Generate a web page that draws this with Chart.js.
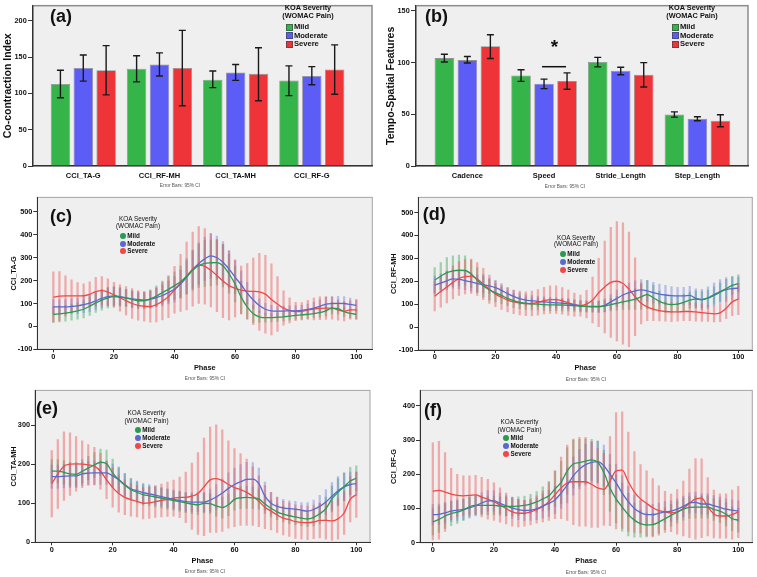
<!DOCTYPE html>
<html>
<head>
<meta charset="utf-8">
<script src="https://cdn.jsdelivr.net/npm/chart.js@4/dist/chart.umd.min.js"></script>
<style>
  body { margin: 0; background: #fff; font-family: 'Liberation Sans', Arial, sans-serif; color: #111; }
  #fig { position: relative; width: 757px; height: 577px; overflow: hidden; }
  #fig canvas { position: absolute; }
  .txt { position: absolute; white-space: nowrap; color: #111; }
  .mark { position: absolute; box-sizing: border-box; }
</style>
</head>
<body>
<div id="fig">
  <canvas id="chartA" width="380" height="192" style="left:0;top:0"></canvas>
  <canvas id="chartB" width="377" height="192" style="left:380px;top:0"></canvas>
  <canvas id="chartC" width="380" height="193" style="left:0;top:192px"></canvas>
  <canvas id="chartD" width="377" height="193" style="left:380px;top:192px"></canvas>
  <canvas id="chartE" width="380" height="192" style="left:0;top:385px"></canvas>
  <canvas id="chartF" width="377" height="192" style="left:380px;top:385px"></canvas>
</div>
<script>
// ---- bar panels (a) and (b) ----
const ccCategories = ['CCI_TA-G', 'CCI_RF-MH', 'CCI_TA-MH', 'CCI_RF-G'];
const ccMild = [113, 134, 119, 118];
const ccMildLow = [94, 116, 108, 97];
const ccMildHigh = [132, 152, 131, 138];
const ccModerate = [135, 140, 129, 124];
const ccModerateLow = [117, 124, 118, 112];
const ccModerateHigh = [153, 156, 140, 137];
const ccSevere = [132, 135, 127, 133];
const ccSevereLow = [98, 83, 90, 99];
const ccSevereHigh = [166, 187, 163, 167];
const ccTicks = [0, 50, 100, 150, 200];

const tsCategories = ['Cadence', 'Speed', 'Stride_Length', 'Step_Length'];
const tsMild = [104.3, 87.5, 100.5, 49.8];
const tsMildLow = [100.5, 81.8, 95.8, 47.3];
const tsMildHigh = [108, 93, 105, 52.3];
const tsModerate = [102.4, 79.6, 92, 45.7];
const tsModerateLow = [99.6, 74.8, 88.2, 43.8];
const tsModerateHigh = [105.9, 84, 95.5, 47.6];
const tsSevere = [115.8, 82.1, 88.2, 43.8];
const tsSevereLow = [104, 74.2, 76.4, 38];
const tsSevereHigh = [126.9, 90, 99.9, 49.5];
const tsTicks = [0, 50, 100, 150];

// ---- curve panels (c)-(f): mean and 95% CI half width per phase ----
const phases = [0,2,4,6,8,10,12,14,16,18,20,22,24,26,28,30,32,34,36,38,40,42,44,46,48,50,52,54,56,58,60,62,64,66,68,70,72,74,76,78,80,82,84,86,88,90,92,94,96,98,100];
const phaseTicks = [0, 20, 40, 60, 80, 100];

const taG_mild = [52,55,58,62,68,75,88,103,115,125,130,128,124,118,112,112,120,132,148,162,178,195,218,245,265,275,278,279,265,230,185,128,85,55,42,38,38,40,42,45,48,50,53,56,60,68,80,78,65,57,53];
const taG_moderate = [85,85,85,87,90,95,102,112,122,130,133,130,125,120,117,115,118,126,135,148,162,185,215,248,275,295,308,300,280,250,215,182,145,115,91,75,68,67,67,68,68,70,74,80,88,97,100,101,100,96,92];
const taG_severe = [128,132,133,133,133,134,140,152,156,150,138,125,112,100,92,88,87,95,110,130,160,190,220,250,268,262,245,222,198,178,166,158,154,153,151,141,118,98,80,70,65,66,72,76,79,80,80,72,66,72,72];
const taG_mildCI = [35,35,35,35,36,38,40,42,44,44,42,40,38,36,35,36,40,45,50,55,60,68,78,88,95,100,100,98,92,85,78,70,55,38,25,20,18,18,18,18,18,18,18,18,20,22,25,25,22,20,20];
const taG_moderateCI = [32,32,32,33,34,35,36,38,40,40,40,38,36,35,34,34,36,40,45,50,56,62,72,82,90,95,98,95,90,82,72,60,48,38,30,26,24,22,22,22,22,22,24,26,28,30,30,30,30,28,26];
const taG_severeCI = [110,108,88,70,58,52,55,62,62,58,55,58,62,65,65,65,68,75,82,92,102,125,148,162,168,165,160,158,160,150,125,105,120,145,168,170,155,120,75,55,40,38,42,48,50,50,48,45,42,40,42];

const rfMH_mild = [205,222,238,245,248,247,232,205,180,162,150,138,125,115,108,104,101,100,98,97,97,96,95,93,91,90,90,90,92,98,104,110,115,122,132,142,128,112,102,98,100,108,118,122,120,126,138,152,168,182,190];
const rfMH_moderate = [183,192,202,210,208,203,197,190,185,180,172,160,146,134,124,118,115,112,110,108,106,104,101,97,93,90,88,88,95,110,125,140,150,158,162,158,150,144,140,137,136,136,138,125,120,128,142,155,164,168,170];
const rfMH_severe = [135,155,175,195,212,220,222,210,188,165,145,130,118,110,105,102,103,108,115,120,120,114,106,98,94,100,118,150,175,195,200,190,165,132,104,88,78,72,68,66,66,68,68,66,63,60,58,62,82,110,122];
const rfMH_mildCI = [55,60,65,66,66,64,60,55,50,45,40,36,32,30,28,27,26,25,25,25,25,25,25,25,25,25,25,25,26,28,30,33,38,45,55,62,55,45,38,35,35,35,35,35,35,36,38,40,40,40,38];
const rfMH_moderateCI = [40,40,40,40,40,40,40,38,36,34,32,30,28,26,25,24,23,22,22,22,22,22,22,22,22,22,22,24,28,32,36,40,42,44,45,45,45,44,42,40,38,38,40,42,45,48,50,52,52,50,48];
const rfMH_severeCI = [65,68,70,72,74,75,75,72,68,62,56,53,52,52,52,52,54,56,58,60,60,58,55,50,46,60,100,150,200,240,260,265,250,170,90,60,50,45,42,42,40,40,40,40,38,35,35,38,45,60,68];

const taMH_mild = [182,182,179,175,174,182,190,198,205,201,178,160,146,135,128,122,119,116,113,110,107,104,101,98,96,100,99,93,89,96,110,114,115,114,111,98,87,78,72,68,65,62,60,64,73,86,111,128,142,157,164];
const taMH_moderate = [168,168,169,170,170,175,177,178,178,178,170,160,148,137,132,127,124,121,117,113,110,107,104,103,103,103,108,116,126,138,148,155,161,162,150,118,100,92,88,86,85,82,80,84,92,103,118,132,142,148,150];
const taMH_severe = [150,175,195,200,201,200,198,195,182,160,140,125,115,109,105,100,101,104,107,110,113,115,115,118,125,142,160,163,158,148,140,135,128,118,105,90,80,70,62,58,53,51,50,52,56,56,55,60,75,110,122];
const taMH_mildCI = [30,30,30,30,30,30,30,32,34,35,35,33,30,28,27,26,25,25,25,25,25,25,25,25,25,25,25,26,27,28,28,28,28,28,26,24,22,20,20,20,20,20,20,22,26,30,33,35,36,35,32];
const taMH_moderateCI = [30,30,30,30,30,30,30,30,30,30,30,30,28,26,25,24,24,24,24,24,24,24,24,24,24,25,28,32,36,40,42,44,44,42,40,36,28,24,22,20,20,20,22,24,28,32,35,36,35,32,30];
const taMH_severeCI = [85,88,88,80,70,60,52,48,46,48,50,48,44,42,40,40,40,40,42,44,46,52,65,85,105,125,135,138,130,112,100,92,85,75,65,55,48,45,43,43,43,43,43,43,45,48,50,52,55,58,58];

const rfG_mild = [61,68,78,85,89,96,105,109,109,109,109,107,106,106,107,109,113,119,128,137,157,176,210,230,234,238,242,235,205,160,128,104,82,66,56,52,53,60,70,80,89,98,103,104,104,104,97,92,83,70,66];
const rfG_moderate = [82,83,87,92,95,97,102,108,116,122,122,115,108,101,97,94,95,99,107,115,125,145,168,195,215,228,235,237,225,200,175,145,120,100,88,82,82,86,90,92,98,106,116,118,113,113,108,103,98,95,92];
const rfG_severe = [150,153,148,142,138,137,138,140,133,127,120,110,100,90,86,86,90,97,106,120,140,160,175,178,178,178,170,160,156,180,210,212,178,148,128,115,102,94,90,87,90,100,115,128,130,105,84,78,78,82,90];
const rfG_mildCI = [38,38,36,35,33,32,30,28,28,27,27,27,27,27,27,27,28,30,35,42,52,62,68,70,68,65,60,62,65,68,70,70,62,50,40,35,33,32,32,32,32,32,32,32,32,32,32,33,34,35,35];
const rfG_moderateCI = [30,30,30,30,30,30,30,30,30,30,30,30,30,30,30,30,30,32,35,38,40,45,52,56,58,60,60,60,60,58,55,50,45,40,35,32,30,30,30,30,30,30,30,30,30,30,30,30,30,30,30];
const rfG_severeCI = [142,143,115,75,62,58,57,57,58,58,55,50,45,42,40,38,38,40,45,55,70,90,110,125,130,130,125,115,105,130,170,170,145,118,100,95,85,72,60,55,65,80,100,118,115,85,70,65,65,72,75];

const ticksMinus100 = [-100, 0, 100, 200, 300, 400, 500];
const ticks0to300 = [0, 100, 200, 300];
const ticks0to400 = [0, 100, 200, 300, 400];

const severity = ['Mild', 'Moderate', 'Severe'];

// ---- styling ----
const FONT = "'Liberation Sans', Arial, sans-serif";
Chart.defaults.font.family = FONT;
Chart.defaults.color = '#111';
const barFill = ['#35b44a', '#5c5cf6', '#ee3439'];
const lineColor = ['#2a9a52', '#5a68d2', '#f04848'];
const errFill = ['rgba(60,170,95,0.45)', 'rgba(105,120,225,0.42)', 'rgba(240,85,85,0.45)'];

const plotBox = {
  id: 'plotBox',
  beforeDraw(chart, args, o) {
    const {ctx, chartArea: a} = chart;
    ctx.save();
    ctx.fillStyle = o.fill || '#efefef';
    ctx.fillRect(a.left, a.top, a.right - a.left, a.bottom - a.top);
    ctx.strokeStyle = o.stroke || '#9a9a9a';
    ctx.lineWidth = o.width || 1;
    ctx.strokeRect(a.left, a.top, a.right - a.left, a.bottom - a.top);
    ctx.restore();
  }
};

const errorBars = {
  id: 'errorBars',
  afterDatasetsDraw(chart) {
    const {ctx} = chart;
    const y = chart.scales.y;
    ctx.save();
    ctx.strokeStyle = '#1a1a1a';
    ctx.lineWidth = 1.4;
    chart.data.datasets.forEach((ds, i) => {
      if (!ds.errLow) return;
      chart.getDatasetMeta(i).data.forEach((bar, j) => {
        const lo = y.getPixelForValue(ds.errLow[j]);
        const hi = y.getPixelForValue(ds.errHigh[j]);
        ctx.beginPath();
        ctx.moveTo(bar.x, lo); ctx.lineTo(bar.x, hi);
        ctx.moveTo(bar.x - 3.5, lo); ctx.lineTo(bar.x + 3.5, lo);
        ctx.moveTo(bar.x - 3.5, hi); ctx.lineTo(bar.x + 3.5, hi);
        ctx.stroke();
      });
    });
    ctx.restore();
  }
};

const sigMark = {
  id: 'sigMark',
  afterDatasetsDraw(chart, args, o) {
    if (!o || !o.enabled) return;
    const y = chart.scales.y;
    const a = chart.getDatasetMeta(o.from).data[o.index];
    const b = chart.getDatasetMeta(o.to).data[o.index];
    const ctx = chart.ctx;
    const yy = y.getPixelForValue(o.lineValue);
    ctx.save();
    ctx.strokeStyle = '#111';
    ctx.lineWidth = 1.5;
    ctx.beginPath();
    ctx.moveTo(a.x - 2, yy); ctx.lineTo(b.x - 1, yy);
    ctx.stroke();
    ctx.fillStyle = '#111';
    ctx.font = 'bold 19px ' + FONT;
    ctx.textAlign = 'center';
    ctx.textBaseline = 'middle';
    ctx.fillText('*', (a.x + b.x) / 2 - 1, y.getPixelForValue(o.starValue) + 3);
    ctx.restore();
  }
};

function fixedTicks(list) {
  return scale => { scale.ticks = list.map(v => ({value: v})); };
}

function layoutFor(g) {
  return {
    padding: {left: 0, top: g.T - g.top, right: g.left + g.w - g.R, bottom: 0}
  };
}

function makeBarChart(id, g, cats, groups, yTicks, yTitle, sig) {
  const datasets = groups.map((s, k) => ({
    label: severity[k],
    data: s.mean.map((v, i) => ({x: i, y: v})),
    errLow: s.lo,
    errHigh: s.hi,
    backgroundColor: barFill[k],
    borderColor: 'rgba(70,70,70,0.55)',
    borderWidth: 0.8,
    barPercentage: 0.85,
    categoryPercentage: 0.9
  }));
  const titleSize = 10.5;
  return new Chart(document.getElementById(id), {
    type: 'bar',
    data: {datasets},
    plugins: [plotBox, errorBars, sigMark],
    options: {
      responsive: false,
      animation: false,
      events: [],
      layout: layoutFor(g),
      plugins: {
        legend: {display: false},
        tooltip: {enabled: false},
        plotBox: {fill: '#efefef', stroke: '#8c8c8c', width: 1.5},
        sigMark: sig || {}
      },
      scales: {
        x: {
          type: 'linear',
          min: g.xMin, max: g.xMax,
          offset: false,
          afterBuildTicks: fixedTicks(cats.map((c, i) => i)),
          afterFit: s => { s.height = g.top + g.h - g.B; },
          grid: {display: false, drawTicks: false, offset: false},
          border: {color: '#333', width: 1.2},
          ticks: {
            autoSkip: false, maxRotation: 0, padding: 5.5,
            font: {size: 7.5, weight: 'bold'},
            callback: v => cats[v]
          }
        },
        y: {
          min: 0, max: g.yMax,
          afterBuildTicks: fixedTicks(yTicks),
          afterFit: s => { s.width = g.L - g.left; },
          grid: {drawOnChartArea: false, tickLength: 5, color: '#333'},
          border: {color: '#333', width: 1.2},
          ticks: {padding: 1.3, font: {size: 7.3, weight: 'bold'}},
          title: {
            display: true, text: yTitle,
            font: {size: titleSize, weight: 'bold'},
            padding: {top: g.yTitleX - g.left - titleSize * 0.6, bottom: 0}
          }
        }
      }
    }
  });
}

function makeCurveChart(id, g, groups, yTicks, yTitle) {
  const bars = groups.map((s, k) => ({
    type: 'bar',
    label: severity[k] + ' CI',
    data: phases.map((p, i) => ({x: p, y: [s.mean[i] - s.ci[i], s.mean[i] + s.ci[i]]})),
    backgroundColor: errFill[k],
    borderWidth: 0,
    barThickness: 1.6,
    grouped: false,
    order: 3 - k
  }));
  const lines = groups.map((s, k) => ({
    type: 'line',
    label: severity[k],
    data: phases.map((p, i) => ({x: p, y: s.mean[i]})),
    borderColor: lineColor[k],
    borderWidth: 1.3,
    pointRadius: 0,
    cubicInterpolationMode: 'monotone',
    fill: false,
    order: 0
  }));
  const yTitleSize = 7.4;
  const xTitleSize = 7.4;
  return new Chart(document.getElementById(id), {
    type: 'line',
    data: {datasets: bars.concat(lines)},
    plugins: [plotBox],
    options: {
      responsive: false,
      animation: false,
      events: [],
      layout: layoutFor(g),
      plugins: {
        legend: {display: false},
        tooltip: {enabled: false},
        plotBox: {fill: '#efefef', stroke: '#a5a5a5', width: 1}
      },
      scales: {
        x: {
          type: 'linear',
          min: g.xMin, max: g.xMax,
          offset: false,
          afterBuildTicks: fixedTicks(phaseTicks),
          afterFit: s => { s.height = g.top + g.h - g.B; },
          grid: {drawOnChartArea: false, offset: false, tickLength: 3, color: '#333'},
          border: {color: '#333', width: 1},
          ticks: {autoSkip: false, maxRotation: 0, padding: 0, font: {size: 7.3, weight: 'bold'}},
          title: {
            display: true, text: 'Phase',
            font: {size: xTitleSize, weight: 'bold'},
            padding: {top: 0, bottom: g.top + g.h - g.xTitleY - xTitleSize * 0.6}
          }
        },
        y: {
          min: g.yMin, max: g.yMax,
          afterBuildTicks: fixedTicks(yTicks),
          afterFit: s => { s.width = g.L - g.left; },
          grid: {drawOnChartArea: false, tickLength: 4, color: '#333'},
          border: {color: '#333', width: 1},
          ticks: {padding: 1, font: {size: 7.3, weight: 'bold'}},
          title: {
            display: true, text: yTitle,
            font: {size: yTitleSize, weight: 'bold'},
            padding: {top: g.yTitleX - g.left - yTitleSize * 0.6, bottom: 0}
          }
        }
      }
    }
  });
}

// panel geometry (page pixels)
const geoA = {left: 0, top: 0, w: 380, h: 192, L: 33, R: 372, T: 3, B: 166, xMin: -0.66, xMax: 3.79, yMax: 221, yTitleX: 8};
const geoB = {left: 380, top: 0, w: 377, h: 192, L: 416, R: 748, T: 3, B: 166, xMin: -0.67, xMax: 3.66, yMax: 155, yTitleX: 391};
const geoC = {left: 0, top: 192, w: 380, h: 193, L: 37.3, R: 372.3, T: 196, B: 349.3, xMin: -5.3, xMax: 105.3, yMin: -100, yMax: 563.6, yTitleX: 14, xTitleY: 367.7};
const geoD = {left: 380, top: 192, w: 377, h: 193, L: 418.3, R: 752.3, T: 196, B: 350, xMin: -5.4, xMax: 104.6, yMin: -100, yMax: 566, yTitleX: 394, xTitleY: 368};
const geoE = {left: 0, top: 385, w: 380, h: 192, L: 35, R: 370, T: 388.3, B: 542.3, xMin: -5.5, xMax: 104.5, yMin: 0, yMax: 389, yTitleX: 14, xTitleY: 560.7};
const geoF = {left: 380, top: 385, w: 377, h: 192, L: 420, R: 752.3, T: 388.3, B: 542.7, xMin: -4.2, xMax: 104.6, yMin: 0, yMax: 445, yTitleX: 394, xTitleY: 561.3};

makeBarChart('chartA', geoA, ccCategories, [
  {mean: ccMild, lo: ccMildLow, hi: ccMildHigh},
  {mean: ccModerate, lo: ccModerateLow, hi: ccModerateHigh},
  {mean: ccSevere, lo: ccSevereLow, hi: ccSevereHigh}
], ccTicks, 'Co-contraction Index');

makeBarChart('chartB', geoB, tsCategories, [
  {mean: tsMild, lo: tsMildLow, hi: tsMildHigh},
  {mean: tsModerate, lo: tsModerateLow, hi: tsModerateHigh},
  {mean: tsSevere, lo: tsSevereLow, hi: tsSevereHigh}
], tsTicks, 'Tempo-Spatial Features',
  {enabled: true, from: 1, to: 2, index: 1, lineValue: 96, starValue: 117});

makeCurveChart('chartC', geoC, [
  {mean: taG_mild, ci: taG_mildCI},
  {mean: taG_moderate, ci: taG_moderateCI},
  {mean: taG_severe, ci: taG_severeCI}
], ticksMinus100, 'CCI_TA-G');

makeCurveChart('chartD', geoD, [
  {mean: rfMH_mild, ci: rfMH_mildCI},
  {mean: rfMH_moderate, ci: rfMH_moderateCI},
  {mean: rfMH_severe, ci: rfMH_severeCI}
], ticksMinus100, 'CCI_RF-MH');

makeCurveChart('chartE', geoE, [
  {mean: taMH_mild, ci: taMH_mildCI},
  {mean: taMH_moderate, ci: taMH_moderateCI},
  {mean: taMH_severe, ci: taMH_severeCI}
], ticks0to300, 'CCI_TA-MH');

makeCurveChart('chartF', geoF, [
  {mean: rfG_mild, ci: rfG_mildCI},
  {mean: rfG_moderate, ci: rfG_moderateCI},
  {mean: rfG_severe, ci: rfG_severeCI}
], ticks0to400, 'CCI_RF-G');

// ---- text overlays: panel letters, legends, notes ----
const fig = document.getElementById('fig');
function text(str, x, y, font, align, color) {
  const d = document.createElement('div');
  d.className = 'txt';
  d.textContent = str;
  d.style.font = font;
  d.style.lineHeight = '1';
  d.style.left = x + 'px';
  d.style.top = y + 'px';
  if (color) d.style.color = color;
  d.style.transform = align === 'left' ? 'translate(0,-50%)' : 'translate(-50%,-50%)';
  fig.appendChild(d);
}
function mark(x, y, size, color, round) {
  const d = document.createElement('div');
  d.className = 'mark';
  d.style.left = (x - size / 2) + 'px';
  d.style.top = (y - size / 2) + 'px';
  d.style.width = size + 'px';
  d.style.height = size + 'px';
  d.style.background = color;
  if (round) d.style.borderRadius = '50%';
  else d.style.border = '0.8px solid rgba(60,60,60,0.6)';
  fig.appendChild(d);
}

const letterFont = 'bold 18px ' + FONT;
text('(a)', 50, 16, letterFont, 'left');
text('(b)', 425, 16, letterFont, 'left');
text('(c)', 50, 215.5, letterFont, 'left');
text('(d)', 422.7, 214, letterFont, 'left');
text('(e)', 36, 407.5, letterFont, 'left');
text('(f)', 424, 410, letterFont, 'left');

function barLegend(cx, markX) {
  const f = 'bold 7.3px ' + FONT;
  text('KOA Severity', cx, 7.8, f);
  text('(WOMAC Pain)', cx, 15.9, f);
  [27, 35.7, 44.4].forEach((y, k) => {
    mark(markX, y, 7, barFill[k], false);
    text(severity[k], markX + 4.6, y, 'bold 7.6px ' + FONT, 'left');
  });
}
barLegend(308, 289.3);
barLegend(692, 675.3);

function lineLegend(cx, y1, y2, markX, rows) {
  const f = '6.4px ' + FONT;
  text('KOA Severity', cx, y1, f);
  text('(WOMAC Pain)', cx, y2, f);
  rows.forEach((y, k) => {
    mark(markX, y, 5.8, lineColor[k], true);
    text(severity[k], markX + 4.5, y, 'bold 6.3px ' + FONT, 'left');
  });
}
lineLegend(138, 219, 225.8, 122.7, [235.7, 243.7, 251]);
lineLegend(576, 237.7, 244.4, 562.7, [254.3, 262, 269.7]);
lineLegend(146.5, 413.3, 420.7, 137.7, [430, 438, 445.7]);
lineLegend(519.5, 422.3, 430, 506, [438.3, 446.3, 454]);

const noteFont = '4.8px ' + FONT;
text('Error Bars: 95% CI', 180, 186, noteFont, 'center', '#555');
text('Error Bars: 95% CI', 565, 187, noteFont, 'center', '#555');
text('Error Bars: 95% CI', 205, 379, noteFont, 'center', '#555');
text('Error Bars: 95% CI', 586, 380, noteFont, 'center', '#555');
text('Error Bars: 95% CI', 205, 572, noteFont, 'center', '#555');
text('Error Bars: 95% CI', 586, 573, noteFont, 'center', '#555');
</script>
</body>
</html>
